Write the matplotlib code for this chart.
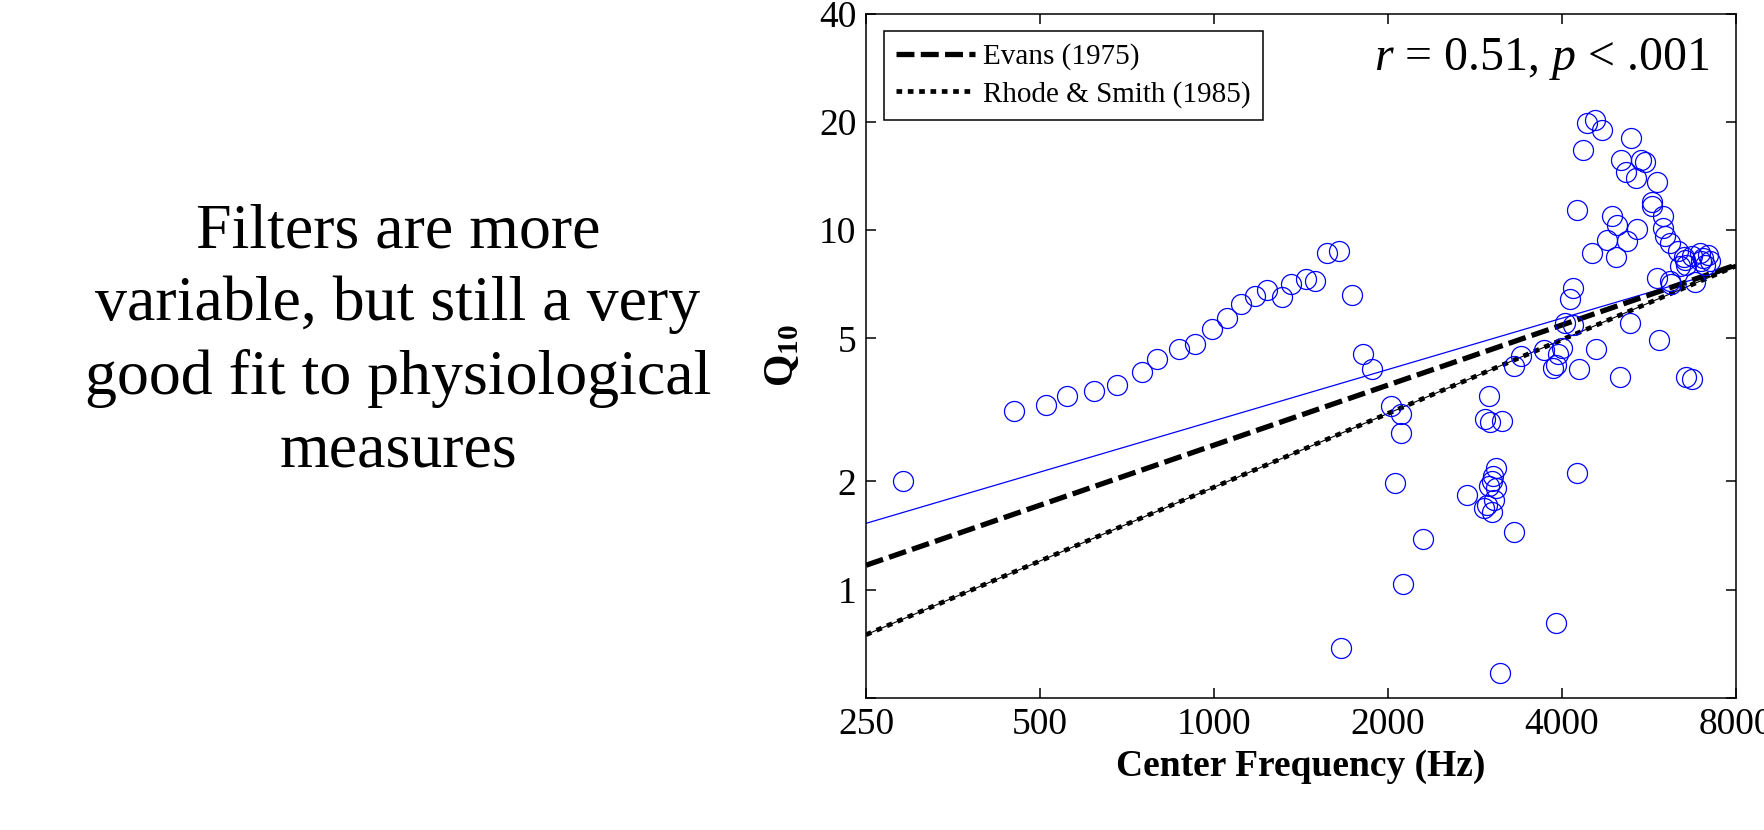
import matplotlib
matplotlib.use('Agg')
import matplotlib.pyplot as plt
import numpy as np

plt.rcParams['font.family'] = 'Liberation Serif'
plt.rcParams['mathtext.fontset'] = 'custom'
plt.rcParams['mathtext.rm'] = 'Liberation Serif'
plt.rcParams['mathtext.it'] = 'Liberation Serif:italic'
plt.rcParams['mathtext.bf'] = 'Liberation Serif:bold'

# filtry: czestotliwosc srodkowa (Hz) i Q10
freq = [290, 450, 511, 557, 619, 680, 750, 797, 871, 927, 990, 1053, 1113, 1178,
        1237, 1312, 1360, 1445, 1497, 1571, 1647, 1729, 1811, 1875, 2025, 2105,
        2105, 2055, 2123, 2302, 1658, 2742, 2935, 2970, 3030, 3050, 2990, 3070,
        3030, 3040, 3070, 2994, 2948, 3000, 3150, 3300, 3118, 3300, 3400, 3727,
        3860, 3900, 3930, 4000, 4050, 4175, 4125, 4180, 4275, 4570, 3905, 4245,
        4251, 4354, 4415, 4562, 4686, 4510, 4876, 4987, 4780, 4950, 5040, 5266,
        5060, 5155, 5364, 5473, 5567, 5190, 5386, 5250, 5833, 5715, 5715, 5880,
        5990, 5990, 6030, 6150, 6357, 5833, 6150, 6180, 6530, 6560, 6710, 6930,
        7000, 7163, 7200, 7060, 6960, 6800, 6560, 6710, 6500, 6400]
q10 = [2.0, 3.15, 3.27, 3.45, 3.58, 3.72, 4.02, 4.39, 4.68, 4.81, 5.32, 5.68, 6.21, 6.54,
       6.81, 6.52, 7.09, 7.32, 7.23, 8.65, 8.77, 6.62, 4.51, 4.12, 3.24, 3.08,
       2.73, 1.98, 1.04, 1.38, 0.69, 1.83, 1.69, 1.72, 1.64, 1.78, 1.94, 1.92,
       2.0, 2.07, 2.18, 3.45, 2.98, 2.92, 2.95, 1.45, 0.586, 4.18, 4.46, 4.63,
       4.14, 4.22, 4.51, 4.70, 5.52, 5.43, 6.45, 6.88, 4.12, 4.68, 0.81, 2.11,
       11.34, 16.65, 19.88, 20.18, 18.93, 8.65, 10.93, 10.36, 9.41, 8.44, 3.90, 17.98,
       15.62, 14.49, 13.92, 15.62, 15.45, 9.31, 10.10, 5.53, 13.59, 11.96, 11.70, 4.94,
       10.93, 10.15, 9.61, 9.22, 8.73, 7.37, 7.21, 7.06, 8.28, 8.02, 8.46, 8.64,
       8.37, 8.55, 8.19, 8.02, 8.19, 7.16, 3.90, 3.86, 8.44, 7.93]

# proste (log-log) na krancach zakresu
line_f = [250, 8000]
fit_q = [1.53, 7.9]
evans_q = [1.17, 8.0]
rhode_q = [0.75, 7.95]

xticks = [250, 500, 1000, 2000, 4000, 8000]
yticks = [0.5, 1, 2, 5, 10, 20, 40]
ylabels = ['', '1', '2', '5', '10', '20', '40']

fig = plt.figure(figsize=(17.65, 8.30), dpi=100)
ax = fig.add_axes([0.4907, 0.1590, 0.4929, 0.8247])

ax.plot(line_f, fit_q, color='#0000ff', lw=0.9)
ax.plot(line_f, evans_q, color='black', lw=3.8, dashes=(3.4, 1.2),
        dash_capstyle='butt', label='Evans (1975)')
ax.plot(line_f, rhode_q, color='black', lw=0.8)
ax.plot(line_f, rhode_q, color='black', lw=3.4, dashes=(1.2, 1.2),
        dash_capstyle='butt', label='Rhode & Smith (1985)')
ax.plot(freq, q10, 'o', mfc='none', mec='#0000ff', ms=14.4, mew=0.9)

ax.set_xscale('log')
ax.set_yscale('log')
ax.set_xlim(250, 8000)
ax.set_ylim(0.5, 40)
ax.set_xticks(xticks)
ax.set_xticklabels([str(t) for t in xticks])
ax.set_yticks(yticks)
ax.set_yticklabels(ylabels)
ax.minorticks_off()
ax.tick_params(direction='in', length=7, width=1.1, labelsize=27, pad=7,
               top=True, right=True)
for s in ax.spines.values():
    s.set_linewidth(1.1)

ax.set_xlabel('Center Frequency (Hz)', fontsize=27, fontweight='bold', labelpad=5)
ax.set_ylabel(r'$\mathbf{Q}_{\mathbf{10}}$', fontsize=30, labelpad=12)

leg = ax.legend(loc='upper left', fontsize=21, frameon=True, fancybox=False,
                framealpha=1, edgecolor='black', handlelength=2.7,
                handletextpad=0.28, labelspacing=0.37, borderaxespad=0.6,
                borderpad=0.42)
leg.get_frame().set_linewidth(1.1)

ax.text(0.969, 0.933, r'$r$ = 0.51, $p$ < .001', transform=ax.transAxes,
        ha='right', va='center', fontsize=34.5)

fig.text(0.2255, 0.588, 'Filters are more\nvariable, but still a very\n'
         'good fit to physiological\nmeasures', ha='center', va='center',
         fontsize=46, linespacing=1.33)

fig.savefig('out.png', dpi=100)
